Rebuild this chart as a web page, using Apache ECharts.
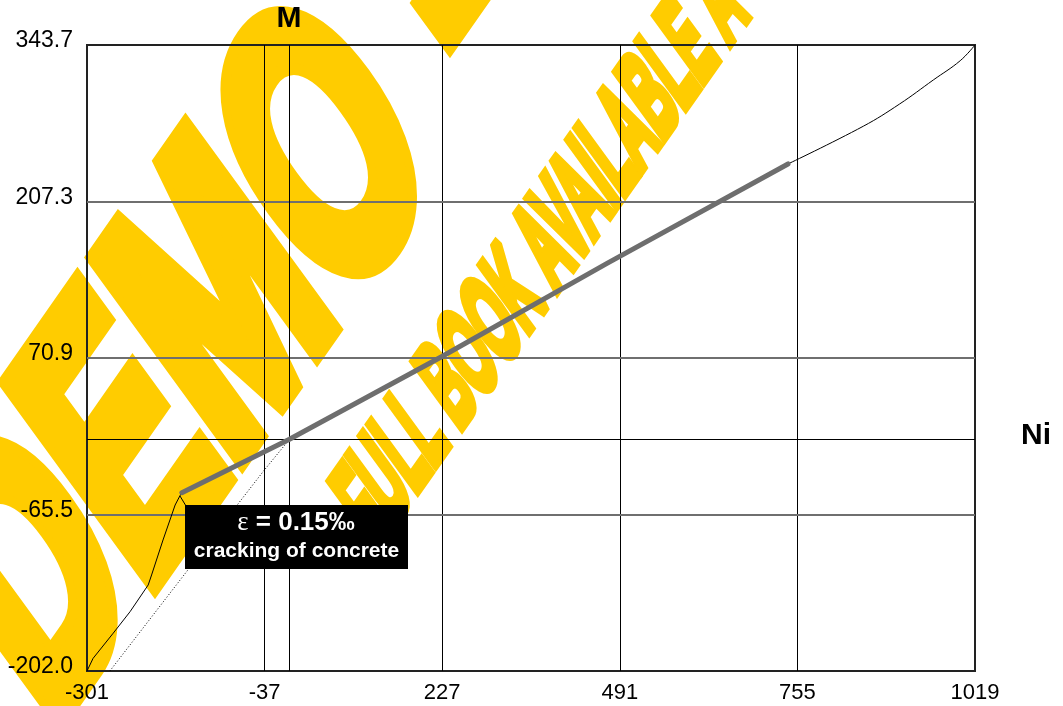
<!DOCTYPE html>
<html>
<head>
<meta charset="utf-8">
<script src="https://cdn.jsdelivr.net/npm/echarts@6/dist/echarts.min.js"></script>
<style>
  html, body { margin: 0; padding: 0; background: #ffffff; }
  #chart { width: 1063px; height: 706px; }
</style>
</head>
<body>
<div id="chart"></div>
<script>
// Axis ticks (N on x, M on y)
const xTicks = [-301, -37, 227, 491, 755, 1019];
const yTicks = [-202.0, -65.5, 70.9, 207.3, 343.7];

// Interaction curve: uncracked branch up to first cracking
const curveUncracked = [
  [-301, -202], [-292, -191], [-262, -169], [-237, -150.3], [-210, -127],
  [-205, -118.3], [-188, -87.8], [-170, -57.3], [-163, -49.4], [-160, -46.6]
];
// Cracked branch (thick grey)
const curveCracked = [[-160, -46.6], [0, 0], [226, 72], [472, 153.4], [741, 240]];
// Final branch up to the end of the diagram
const curveUpper = [[741, 240], [853, 272.9], [907, 292.3], [957, 313.2], [997, 330], [1019, 343.7]];
// Linear reference (dotted)
const referenceLine = [[-267, -202], [-153, -115.4], [-78, -57.5], [-39, -28], [0, 0]];

const annotationLine1 = '0.15‰';
const annotationLine2 = 'cracking of concrete';

const chart = echarts.init(document.getElementById('chart'), null, { renderer: 'canvas' });

const deg = Math.PI / 180;
const yellow = '#FFCC00';
const wmAngle = 45.6 * deg;
const wmStretch = 1.4;

function gridMarkLines() {
  const data = [];
  xTicks.slice(1, -1).forEach(v => data.push({ xAxis: v, lineStyle: { color: '#000', width: 1, type: 'solid' } }));
  yTicks.slice(1, -1).forEach(v => data.push({ yAxis: v, lineStyle: { color: '#6f6f6f', width: 2, type: 'solid' } }));
  data.push({ xAxis: 0, lineStyle: { color: '#000', width: 1, type: 'solid' } });
  data.push({ yAxis: 0, lineStyle: { color: '#000', width: 1, type: 'solid' } });
  return data;
}

function wmText(text, x, y, size, sx, strokeW) {
  return {
    type: 'text', x: x, y: y / wmStretch, rotation: wmAngle, scaleX: sx, z: -10,
    style: {
      text: text, font: 'bold ' + size + 'px "Liberation Sans"', fill: yellow,
      stroke: yellow, lineWidth: strokeW, lineJoin: 'round',
      textAlign: 'center', textVerticalAlign: 'middle', align: 'center', verticalAlign: 'middle'
    }
  };
}

const option = {
  animation: false,
  grid: { left: 87, right: 88, top: 45, bottom: 35, show: true, borderColor: '#222', borderWidth: 2, backgroundColor: 'transparent', z: 1 },
  xAxis: {
    type: 'value', min: -301, max: 1019,
    axisLine: { show: false }, axisTick: { show: false }, splitLine: { show: false },
    axisLabel: {
      customValues: xTicks, showMinLabel: true, showMaxLabel: true,
      formatter: v => String(v),
      fontFamily: 'Liberation Sans', fontSize: 22, color: '#000', margin: 11, lineHeight: 22
    }
  },
  yAxis: {
    type: 'value', min: -202.0, max: 343.7,
    axisLine: { show: false }, axisTick: { show: false }, splitLine: { show: false },
    axisLabel: {
      customValues: yTicks, showMinLabel: true, showMaxLabel: true,
      formatter: v => v.toFixed(1),
      fontFamily: 'Liberation Sans', fontSize: 23, color: '#000', margin: 14,
      lineHeight: 8, verticalAlign: 'bottom'
    }
  },
  series: [
    {
      name: 'reference', type: 'line', data: referenceLine, showSymbol: false, symbol: 'none',
      lineStyle: { color: '#000', width: 1, type: [1, 2] }, z: 3, silent: true,
      markLine: { silent: true, symbol: ['none', 'none'], label: { show: false }, animation: false, z: 2, data: gridMarkLines() }
    },
    {
      name: 'uncracked', type: 'line', data: curveUncracked, showSymbol: false, symbol: 'none',
      lineStyle: { color: '#000', width: 1 }, z: 4, silent: true
    },
    {
      name: 'upper', type: 'line', data: curveUpper, showSymbol: false, symbol: 'none', smooth: 0.4,
      lineStyle: { color: '#000', width: 1 }, z: 4, silent: true
    },
    {
      name: 'cracked', type: 'line', data: curveCracked, showSymbol: false, symbol: 'none',
      lineStyle: { color: '#6e6e6e', width: 5, cap: 'round', join: 'round' }, z: 5, silent: true
    }
  ],
  graphic: [
    {
      type: 'group', x: 0, y: 0, scaleY: wmStretch, z: -10, silent: true,
      children: [
        wmText('DEMO', 188, 370, 290, 0.645, 22),
        wmText('-', 448, -5, 290, 0.645, 22),
        wmText('FULL BOOK AVAILABLE A', 543, 257, 96, 0.44, 9)
      ]
    },
    {
      type: 'text', x: 289, y: 19, z: 100,
      style: { text: 'M', font: 'bold 30px "Liberation Sans"', fill: '#000', textAlign: 'center', textVerticalAlign: 'middle', align: 'center', verticalAlign: 'middle' }
    },
    {
      type: 'text', x: 1036, y: 436, z: 100,
      style: { text: 'Ni', font: 'bold 30px "Liberation Sans"', fill: '#000', textAlign: 'center', textVerticalAlign: 'middle', align: 'center', verticalAlign: 'middle' }
    },
    {
      type: 'line', z: 100,
      shape: { x1: 180, y1: 496, x2: 186, y2: 506 },
      style: { stroke: '#000', lineWidth: 1 }
    },
    {
      type: 'rect', z: 100,
      shape: { x: 185, y: 505, width: 223, height: 64 },
      style: { fill: '#000' }
    },
    {
      type: 'text', x: 296, y: 523, z: 101,
      style: {
        text: '{e|ε}{b| = ' + annotationLine1 + '}',
        textAlign: 'center', textVerticalAlign: 'middle', align: 'center', verticalAlign: 'middle',
        rich: {
          e: { fontFamily: 'Liberation Serif', fontSize: 27, fontWeight: 'normal', fill: '#fff', color: '#fff' },
          b: { fontFamily: 'Liberation Sans', fontSize: 26, fontWeight: 'bold', fill: '#fff', color: '#fff' }
        }
      }
    },
    {
      type: 'text', x: 296.5, y: 551, z: 101,
      style: { text: annotationLine2, font: 'bold 21px "Liberation Sans"', fill: '#fff', textAlign: 'center', textVerticalAlign: 'middle', align: 'center', verticalAlign: 'middle' }
    }
  ]
};

chart.setOption(option);
</script>
</body>
</html>
